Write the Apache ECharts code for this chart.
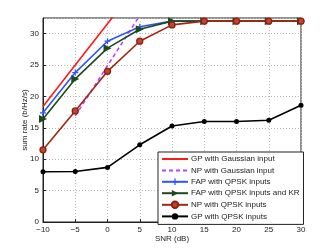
<!DOCTYPE html>
<html><head><meta charset="utf-8">
<script src="https://cdn.jsdelivr.net/npm/echarts@6/dist/echarts.min.js"></script>
<style>html,body{margin:0;padding:0;background:#fff}#c{width:332px;height:250px}</style>
</head><body><div id="c"></div>
<script>
const snr = [-10, -5, 0, 5, 10, 15, 20, 25, 30];
const gpGaussianSnr = [-10, -5, 0, 5];
const gpGaussian = [18.4, 25.0, 31.6, 38.2];
const npGaussianSnr = [-5, 0, 5];
const npGaussian = [16.9, 24.9, 32.9];
const fapQpsk = [17.4, 23.8, 28.8, 31.1, 32.0, 32.0, 32.0, 32.0, 32.0];
const fapQpskKr = [16.4, 22.8, 27.7, 30.7, 32.0, 32.0, 32.0, 32.0, 32.0];
const npQpsk = [11.5, 17.7, 24.0, 28.8, 31.4, 32.0, 32.0, 32.0, 32.0];
const gpQpsk = [8.0, 8.05, 8.7, 12.3, 15.3, 16.0, 16.0, 16.2, 18.6];
const names = ['GP with Gaussian input','NP with Gaussian input','FAP with QPSK inputs','FAP with QPSK inputs and KR','NP with QPSK inputs','GP with QPSK inputs'];

const pair = (xs, ys) => xs.map((x, i) => [x, ys[i]]);
const font = 'Liberation Sans, Arial, sans-serif';
const chart = echarts.init(document.getElementById('c'));
chart.setOption({
  animation: false,
  textStyle: {fontFamily: font},
  grid: {left: 43, right: 31, top: 18, bottom: 28, show: true, borderColor: '#222', borderWidth: 1},
  xAxis: {
    type: 'value', min: -10, max: 30, interval: 5,
    name: 'SNR (dB)', nameLocation: 'middle', nameGap: 13, nameMoveOverlap: false,
    nameTextStyle: {fontSize: 8, color: '#222', fontFamily: font},
    axisLine: {onZero: false, lineStyle: {color: '#222'}},
    axisTick: {inside: true, length: 3, lineStyle: {color: '#222'}},
    axisLabel: {fontSize: 8, color: '#222', margin: 4, fontFamily: font,
      formatter: v => (v < 0 ? '\u2212' + (-v) : String(v))},
    splitLine: {show: true, lineStyle: {color: '#bbb', type: [1, 2], width: 1}}
  },
  yAxis: {
    type: 'value', min: 0, max: 32.5, interval: 5,
    name: 'sum rate (b/Hz/s)', nameLocation: 'middle', nameGap: 14, nameMoveOverlap: false,
    nameTextStyle: {fontSize: 8, color: '#222', fontFamily: font},
    axisLine: {show: true, onZero: false, lineStyle: {color: '#222'}},
    axisTick: {inside: true, length: 3, lineStyle: {color: '#222'}},
    axisLabel: {fontSize: 8, color: '#222', margin: 4, fontFamily: font, showMaxLabel: false,
      formatter: v => (v % 5 === 0 ? String(v) : '')},
    splitLine: {show: true, lineStyle: {color: '#bbb', type: [1, 2], width: 1}}
  },
  legend: {
    orient: 'vertical', left: 158, top: 152, width: 142,
    backgroundColor: '#fff', borderColor: '#222', borderWidth: 1,
    padding: [3, 4, 4, 3], itemGap: 3.4, itemWidth: 26, itemHeight: 8,
    textStyle: {fontSize: 8, color: '#222', fontFamily: font, padding: [0, 0, 0, -2]},
    data: [
      {name: names[0], itemStyle: {opacity: 0}},
      {name: names[1], itemStyle: {opacity: 0}},
      names[2], names[3], names[4], names[5]
    ]
  },
  series: [
    {name: names[0], type: 'line', data: pair(gpGaussianSnr, gpGaussian), symbol: 'none',
      lineStyle: {color: '#ff1a1a', width: 1.6}, itemStyle: {color: '#ff1a1a'}},
    {name: names[1], type: 'line', data: pair(npGaussianSnr, npGaussian), symbol: 'none',
      lineStyle: {color: '#c040ff', width: 1.6, type: [4, 3]}, itemStyle: {color: '#c040ff'}},
    {name: names[2], type: 'line', data: pair(snr, fapQpsk),
      symbol: 'path://M4,0 L6,0 L6,4 L10,4 L10,6 L6,6 L6,10 L4,10 L4,6 L0,6 L0,4 L4,4 Z', symbolSize: 6,
      lineStyle: {color: '#2f55ff', width: 1.6}, itemStyle: {color: '#2f55ff'}},
    {name: names[3], type: 'line', data: pair(snr, fapQpskKr),
      symbol: 'triangle', symbolRotate: -90, symbolSize: 8,
      lineStyle: {color: '#1d4a1d', width: 1.6}, itemStyle: {color: '#1d4a1d'}},
    {name: names[4], type: 'line', data: pair(snr, npQpsk),
      symbol: 'circle', symbolSize: 6,
      lineStyle: {color: '#a3260f', width: 1.6},
      itemStyle: {color: '#b84a35', borderColor: '#9a1a0a', borderWidth: 1.3}},
    {name: names[5], type: 'line', data: pair(snr, gpQpsk),
      symbol: 'circle', symbolSize: 5,
      lineStyle: {color: '#000', width: 1.6}, itemStyle: {color: '#000'}}
  ]
});
</script></body></html>
